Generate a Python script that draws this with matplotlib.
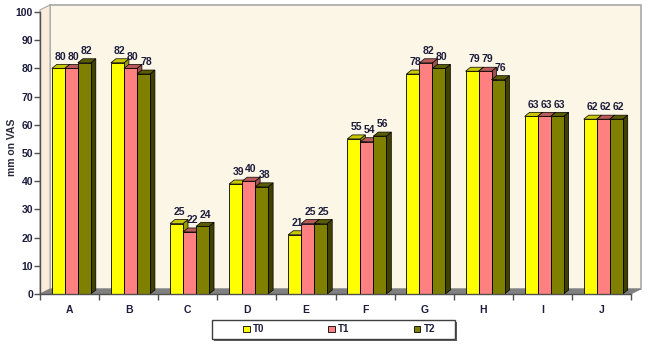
import matplotlib
matplotlib.use("Agg")
import matplotlib.pyplot as plt
from matplotlib.patches import Polygon, Rectangle, Patch

plt.rcParams['font.family'] = ['Liberation Sans', 'DejaVu Sans']

categories = ['A', 'B', 'C', 'D', 'E', 'F', 'G', 'H', 'I', 'J']
t0 = [80, 82, 25, 39, 21, 55, 78, 79, 63, 62]
t1 = [80, 80, 22, 40, 25, 54, 82, 79, 63, 62]
t2 = [82, 78, 24, 38, 25, 56, 80, 76, 63, 62]
series_names = ['T0', 'T1', 'T2']
y_ticks = list(range(0, 101, 10))

# front / top / side colours
colors = {
    'T0': ('#FFFF00', '#C8C800', '#9A9A00'),
    'T1': ('#FF8080', '#B85A5A', '#A05050'),
    'T2': ('#808000', '#5C5C00', '#404000'),
}
text_col = '#1c1c3c'

W, H = 648, 344
fig = plt.figure(figsize=(W / 100, H / 100), dpi=100)
fig.patch.set_facecolor('white')

ax_l, ax_r, ax_b, ax_t = 40, 631, 294, 12
ax = fig.add_axes([ax_l / W, (H - ax_b) / H, (ax_r - ax_l) / W, (ax_b - ax_t) / H])
ax.set_xlim(-0.5, len(categories) - 0.5)
ax.set_ylim(0, 100)
ax.patch.set_visible(False)

pxx = (ax_r - ax_l) / len(categories)   # px per x unit
pxy = (ax_b - ax_t) / 100.0             # px per y unit

# walls and floor
wdx, wdy = 10 / pxx, 5 / pxy
x0, x1 = -0.5, len(categories) - 0.5
top = 100 + 2.5
ax.add_patch(Polygon([(x0 + wdx, wdy), (x1 + wdx, wdy), (x1 + wdx, top), (x0 + wdx, top)],
                     closed=True, facecolor='#FCF6E6', edgecolor='#a8a8a8', lw=1.2,
                     clip_on=False, zorder=0))
ax.add_patch(Polygon([(x0, 0), (x0 + wdx, wdy), (x0 + wdx, top), (x0, top - wdy)],
                     closed=True, facecolor='#FAEBDA', edgecolor='#a8a8a8', lw=0.8,
                     clip_on=False, zorder=0.5))
ax.add_patch(Polygon([(x0, 0), (x1, 0), (x1 + wdx, wdy), (x0 + wdx, wdy)],
                     closed=True, facecolor='#808080', edgecolor='#808080', lw=0.5,
                     clip_on=False, zorder=0.5))

# 3d bars
bw = 0.22
offsets = [-0.19, 0.03, 0.25]
bdx, bdy = 5 / pxx, 4 / pxy
for s, (name, vals) in enumerate(zip(series_names, [t0, t1, t2])):
    front, topc, side = colors[name]
    xs = [i + offsets[s] for i in range(len(categories))]
    ax.bar(xs, vals, width=bw, color=front, edgecolor='black', lw=0.6, zorder=2 + s)
    for x, v in zip(xs, vals):
        xl, xr = x - bw / 2, x + bw / 2
        ax.add_patch(Polygon([(xl, v), (xl + bdx, v + bdy), (xr + bdx, v + bdy), (xr, v)],
                             closed=True, facecolor=topc, edgecolor='black', lw=0.5,
                             zorder=2 + s))
        ax.add_patch(Polygon([(xr, 0), (xr + bdx, bdy), (xr + bdx, v + bdy), (xr, v)],
                             closed=True, facecolor=side, edgecolor='black', lw=0.5,
                             zorder=1.9 + s))
        ax.text(x + bdx / 2, v + bdy + 1.0, str(v), ha='center', va='bottom',
                fontsize=7.5, fontweight='bold', color=text_col, zorder=10)

# axes styling
for sp in ['top', 'right']:
    ax.spines[sp].set_visible(False)
for sp in ['left', 'bottom']:
    ax.spines[sp].set_color('#505050')
    ax.spines[sp].set_linewidth(1)
    ax.spines[sp].set_zorder(6)
ax.set_yticks(y_ticks)
ax.set_yticklabels([str(v) for v in y_ticks])
ax.tick_params(axis='y', length=4, width=1, color='#505050', labelsize=7.5,
               labelcolor=text_col, pad=1)
ax.set_xticks(range(len(categories)))
ax.set_xticklabels(categories)
ax.set_xticks([i - 0.5 for i in range(len(categories) + 1)], minor=True)
ax.tick_params(axis='x', which='major', length=0, labelsize=7.5, labelcolor=text_col, pad=8)
ax.tick_params(axis='x', which='minor', length=4, width=1, color='#505050')
for lab in ax.get_xticklabels() + ax.get_yticklabels():
    lab.set_fontweight('bold')

fig.text(12 / W, 1 - 147 / H, 'mm on VAS', rotation=90, ha='center', va='center',
         fontsize=7.5, fontweight='bold', color='#2a2a3a')

# legend with its own box
fig.patches.append(Rectangle((214 / W, 3 / H), 243 / W, 19 / H, transform=fig.transFigure,
                             facecolor='#606060', edgecolor='none', zorder=1))
fig.patches.append(Rectangle((212 / W, 5 / H), 243 / W, 19 / H, transform=fig.transFigure,
                             facecolor='white', edgecolor='#404040', lw=1, zorder=2))
handles = [Patch(facecolor=colors[n][0], edgecolor='black', lw=0.6) for n in series_names]
leg = fig.legend(handles, series_names, loc='center', bbox_to_anchor=(339 / W, 14.5 / H),
                 ncol=3, frameon=False, handlelength=0.7, handleheight=0.6,
                 handletextpad=0.3, columnspacing=6.6,
                 prop={'weight': 'bold', 'size': 7})
for t in leg.get_texts():
    t.set_color(text_col)

fig.savefig('out.png', dpi=100)
